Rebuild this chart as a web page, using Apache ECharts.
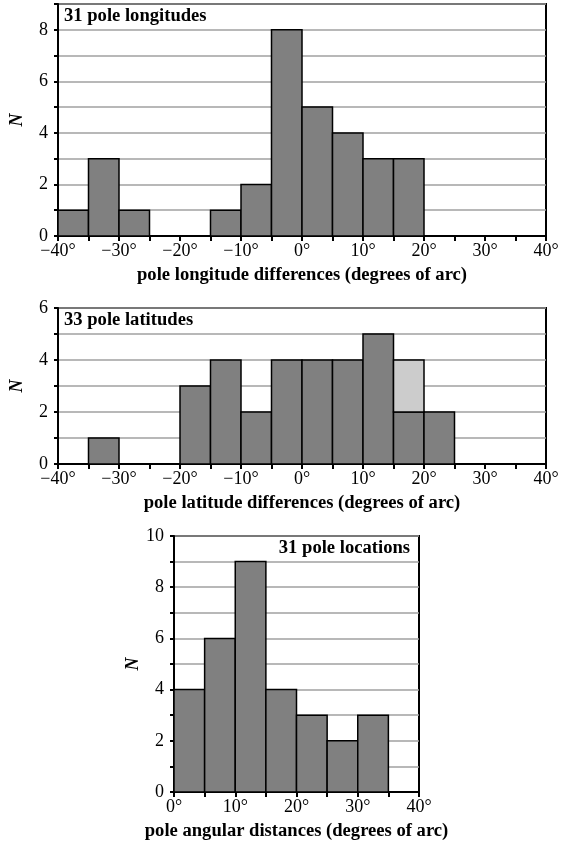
<!DOCTYPE html>
<html>
<head>
<meta charset="utf-8">
<script src="https://cdn.jsdelivr.net/npm/echarts@6/dist/echarts.min.js"></script>
<style>
  html, body { margin: 0; padding: 0; background: #fff; }
  #chart { width: 562px; height: 845px; }
</style>
</head>
<body>
<div id="chart"></div>
<script>
// Histogram bins (left edge of each 5° bin) and counts
const diffBinStarts = [-40, -35, -30, -25, -20, -15, -10, -5, 0, 5, 10, 15, 20, 25, 30, 35];
const lonCounts     = [1, 3, 1, 0, 0, 1, 2, 8, 5, 4, 3, 3, 0, 0, 0, 0];
const latCounts     = [0, 1, 0, 0, 3, 4, 2, 4, 4, 4, 5, 2, 2, 0, 0, 0];
const latExtra      = [0, 0, 0, 0, 0, 0, 0, 0, 0, 0, 0, 2, 0, 0, 0, 0];
const distBinStarts = [0, 5, 10, 15, 20, 25, 30, 35];
const distCounts    = [4, 6, 9, 4, 3, 2, 3, 0];
const binWidth = 5;

const titles = ['31 pole longitudes', '33 pole latitudes', '31 pole locations'];
const xNames = [
  'pole longitude differences (degrees of arc)',
  'pole latitude differences (degrees of arc)',
  'pole angular distances (degrees of arc)'
];

const FONT = "'Liberation Serif', 'Times New Roman', serif";
const DARK = '#808080';
const LIGHT = '#cccccc';
const FS = 18;
const FS_BOLD = 18.6;

// rows: [x0, x1, height, base]
function bins(starts, counts, base) {
  const out = [];
  starts.forEach((s, i) => {
    if (counts[i] > 0) out.push([s, s + binWidth, counts[i], base ? base[i] : 0]);
  });
  return out;
}

function renderBar(fill) {
  return function (params, api) {
    const x0 = api.value(0), x1 = api.value(1), h = api.value(2), b = api.value(3);
    const p0 = api.coord([x0, b + h]);
    const p1 = api.coord([x1, b]);
    return {
      type: 'rect',
      shape: { x: p0[0], y: p0[1], width: p1[0] - p0[0], height: p1[1] - p0[1] },
      style: { fill: fill, stroke: '#000', lineWidth: 1.5 }
    };
  };
}

function degLabel(v) {
  if (v % 10 !== 0) return '';
  return (v < 0 ? '\u2212' + Math.abs(v) : String(v)) + '°';
}

function xAxis(idx, min, max) {
  return {
    type: 'value', gridIndex: idx, min: min, max: max, interval: 5,
    name: xNames[idx], nameLocation: 'middle', nameGap: 30,
    nameTextStyle: { fontFamily: FONT, fontWeight: 'bold', fontSize: FS_BOLD, color: '#000' },
    axisLine: { show: true, onZero: false, lineStyle: { color: '#000', width: 2 } },
    axisTick: { show: true, length: 5, lineStyle: { color: '#000', width: 2 } },
    axisLabel: { formatter: degLabel, fontFamily: FONT, fontSize: FS, color: '#000', margin: 6, showMinLabel: true, showMaxLabel: true },
    splitLine: { show: false }
  };
}

function yAxis(idx, max) {
  return {
    type: 'value', gridIndex: idx, min: 0, max: max, interval: 1,
    name: 'N', nameLocation: 'middle', nameGap: 32, nameRotate: 90,
    nameTextStyle: { fontFamily: FONT, fontStyle: 'italic', fontWeight: 'bold', fontSize: FS, color: '#000' },
    axisLine: { show: true, onZero: false, lineStyle: { color: '#000', width: 2 } },
    axisTick: { show: true, length: 4, lineStyle: { color: '#000', width: 2 } },
    axisLabel: { formatter: v => (v % 2 === 0 ? String(v) : ''), fontFamily: FONT, fontSize: FS, color: '#000', margin: 10 },
    splitLine: { show: true, lineStyle: { color: '#a0a0a0', width: 1.5 } }
  };
}

const chart = echarts.init(document.getElementById('chart'), null, { renderer: 'canvas' });

const titleStyle = { fontFamily: FONT, fontWeight: 'bold', fontSize: FS_BOLD, color: '#000' };

chart.setOption({
  animation: false,
  backgroundColor: '#fff',
  grid: [
    { left: 55, top: 4, width: 491, height: 232, show: true, borderColor: '#000', borderWidth: 2, backgroundColor: 'transparent' },
    { left: 55, top: 308, width: 491, height: 156, show: true, borderColor: '#000', borderWidth: 2, backgroundColor: 'transparent' },
    { left: 174, top: 536, width: 245, height: 256, show: true, borderColor: '#000', borderWidth: 2, backgroundColor: 'transparent' }
  ],
  title: [
    { text: titles[0], left: 64, top: 7, textStyle: titleStyle, padding: 0 },
    { text: titles[1], left: 64, top: 311, textStyle: titleStyle, padding: 0 },
    { text: titles[2], right: 152, top: 539, textStyle: titleStyle, padding: 0 }
  ],
  xAxis: [xAxis(0, -40, 40), xAxis(1, -40, 40), xAxis(2, 0, 40)],
  yAxis: [yAxis(0, 9), yAxis(1, 6), yAxis(2, 10)],
  series: [
    { type: 'custom', xAxisIndex: 0, yAxisIndex: 0, renderItem: renderBar(DARK), data: bins(diffBinStarts, lonCounts), encode: { x: [0, 1], y: [2, 3] } },
    { type: 'custom', xAxisIndex: 1, yAxisIndex: 1, renderItem: renderBar(DARK), data: bins(diffBinStarts, latCounts), encode: { x: [0, 1], y: [2, 3] } },
    { type: 'custom', xAxisIndex: 1, yAxisIndex: 1, renderItem: renderBar(LIGHT), data: bins(diffBinStarts, latExtra, latCounts), encode: { x: [0, 1], y: [2, 3] } },
    { type: 'custom', xAxisIndex: 2, yAxisIndex: 2, renderItem: renderBar(DARK), data: bins(distBinStarts, distCounts), encode: { x: [0, 1], y: [2, 3] } }
  ]
});
</script>
</body>
</html>
